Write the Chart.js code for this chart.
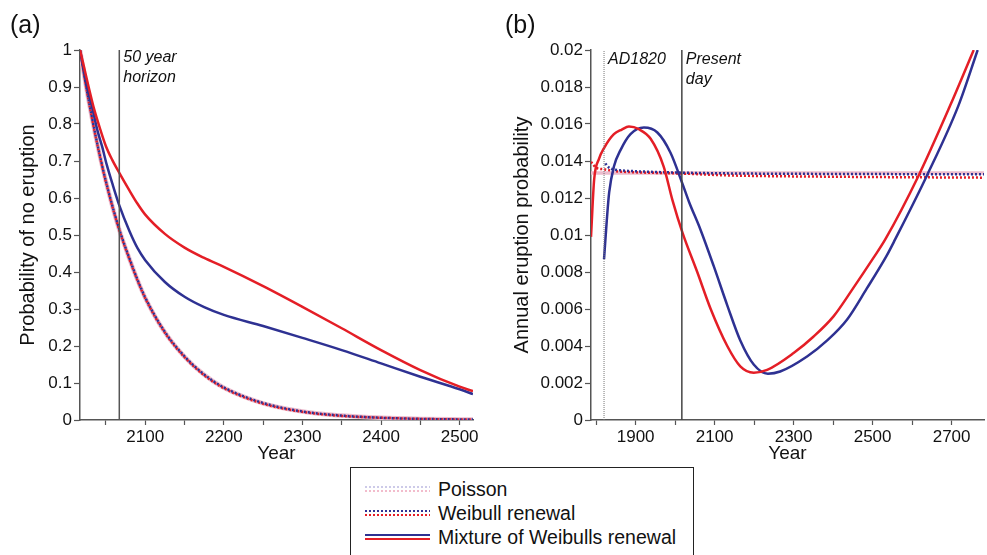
<!DOCTYPE html>
<html>
<head>
<meta charset="utf-8">
<script src="https://cdn.jsdelivr.net/npm/chart.js@4.4.1/dist/chart.umd.min.js"></script>
<style>
	body { margin: 0; background: #fff; font-family: "Liberation Sans", Arial, sans-serif; }
	#wrap { position: relative; width: 987px; height: 555px; overflow: hidden; }
	canvas { position: absolute; top: 0; }
	#chartA { left: 0; }
	#chartB { left: 500px; }
	.panel { position: absolute; top: 12px; font-size: 25px; line-height: 1; color: #111; }
	#legend { position: absolute; left: 350px; top: 467px; width: 342px; height: 100px; border: 1px solid #222; background: #fff; }
	.row { position: absolute; left: 0; width: 340px; height: 24px; }
	.row span { position: absolute; left: 87px; top: 0; line-height: 24px; font-size: 19.5px; color: #111; white-space: nowrap; }
	.bar { position: absolute; left: 14px; width: 65px; height: 2px; }
</style>
</head>
<body>
<div id="wrap">
	<canvas id="chartA" width="490" height="470"></canvas>
	<canvas id="chartB" width="487" height="470"></canvas>
	<div class="panel" style="left:10px">(a)</div>
	<div class="panel" style="left:505px">(b)</div>
	<div id="legend">
		<div class="row" style="top:9px">
			<div class="bar" style="top:9px;background:repeating-linear-gradient(90deg,#cdcae8 0 2px,transparent 2px 4px)"></div>
			<div class="bar" style="top:13px;background:repeating-linear-gradient(90deg,#f2bccc 0 2px,transparent 2px 4px)"></div>
			<span>Poisson</span>
		</div>
		<div class="row" style="top:33px">
			<div class="bar" style="top:9px;background:repeating-linear-gradient(90deg,#2e3192 0 2px,transparent 2px 4px)"></div>
			<div class="bar" style="top:13px;background:repeating-linear-gradient(90deg,#e41e26 0 2px,transparent 2px 4px)"></div>
			<span>Weibull renewal</span>
		</div>
		<div class="row" style="top:57px">
			<div class="bar" style="top:9px;background:#2e3192"></div>
			<div class="bar" style="top:13px;background:#e41e26"></div>
			<span>Mixture of Weibulls renewal</span>
		</div>
	</div>
</div>
<script>
// (a) probability of no eruption, by year
var poissonYearsA = [2017, 2027, 2037, 2047, 2057, 2067, 2080, 2090, 2100, 2125, 2150, 2175, 2200, 2250, 2300, 2350, 2400, 2450, 2500, 2517];
var poissonA      = [1, 0.875, 0.766, 0.67, 0.587, 0.514, 0.435, 0.379, 0.33, 0.237, 0.171, 0.122, 0.087, 0.045, 0.023, 0.012, 0.006, 0.003, 0.0016, 0.0013];
var weibullRedA   = [1, 0.874, 0.765, 0.669, 0.586, 0.513, 0.434, 0.378, 0.329, 0.236, 0.17, 0.121, 0.086, 0.044, 0.022, 0.011, 0.006, 0.003, 0.0015, 0.0012];
var weibullBlueA  = [1, 0.876, 0.767, 0.671, 0.588, 0.515, 0.436, 0.38, 0.331, 0.238, 0.172, 0.123, 0.088, 0.046, 0.023, 0.012, 0.006, 0.003, 0.0016, 0.0013];

var mixRedYearsA  = [2017, 2022, 2028, 2035, 2043, 2050, 2058, 2067, 2080, 2090, 2100, 2125, 2150, 2175, 2200, 2250, 2300, 2350, 2400, 2450, 2500, 2517];
var mixRedA       = [1, 0.955, 0.9, 0.84, 0.784, 0.74, 0.703, 0.668, 0.62, 0.585, 0.555, 0.503, 0.466, 0.438, 0.414, 0.362, 0.306, 0.248, 0.189, 0.135, 0.09, 0.078];
var mixBlueYearsA = [2017, 2026, 2033, 2039, 2045, 2051, 2058, 2067, 2080, 2090, 2100, 2125, 2150, 2175, 2200, 2250, 2300, 2350, 2400, 2450, 2500, 2517];
var mixBlueA      = [1, 0.9, 0.84, 0.784, 0.74, 0.69, 0.64, 0.58, 0.51, 0.465, 0.432, 0.373, 0.333, 0.305, 0.284, 0.254, 0.222, 0.189, 0.153, 0.117, 0.083, 0.07];

var horizonYear = 2067;
var xTicksA = [2050, 2100, 2150, 2200, 2250, 2300, 2350, 2400, 2450, 2500];
var xLabelsA = [2100, 2200, 2300, 2400, 2500];

// (b) annual eruption probability, by year
var poissonYearsB = [1787, 2782];
var poissonB      = [0.01335, 0.01335];
var weibullRedYearsB  = [1787, 1800, 1820, 1850, 1887, 2018, 2137, 2400, 2782];
var weibullRedB       = [0.01395, 0.01364, 0.01355, 0.01345, 0.0134, 0.01332, 0.01322, 0.01315, 0.0131];
var weibullBlueYearsB = [1820, 1833, 1860, 1887, 2018, 2137, 2400, 2782];
var weibullBlueB      = [0.01395, 0.01364, 0.0135, 0.01346, 0.01337, 0.01333, 0.0133, 0.01328];

var mixRedYearsB  = [1787, 1795, 1807, 1820, 1845, 1865, 1883, 1908, 1938, 1971, 1993, 2019, 2056, 2090, 2132, 2165, 2199, 2233, 2300, 2350, 2401, 2450, 2502, 2532, 2616, 2696, 2756];
var mixRedB       = [0.0099, 0.013, 0.0141, 0.0147, 0.01545, 0.0157, 0.01586, 0.01572, 0.0152, 0.0137, 0.0119, 0.0101, 0.008, 0.006, 0.004, 0.0029, 0.00256, 0.00271, 0.00362, 0.0045, 0.0056, 0.0071, 0.00876, 0.00976, 0.01319, 0.01698, 0.02];
var mixBlueYearsB = [1820, 1827, 1833, 1845, 1862, 1887, 1921, 1955, 1988, 2018, 2035, 2064, 2098, 2132, 2165, 2199, 2235, 2266, 2334, 2385, 2435, 2485, 2536, 2557, 2637, 2717, 2766];
var mixBlueB      = [0.0087, 0.0108, 0.0123, 0.0137, 0.0146, 0.01545, 0.01581, 0.01554, 0.01446, 0.0128, 0.0118, 0.0103, 0.0083, 0.0062, 0.0043, 0.003, 0.0025, 0.00262, 0.00343, 0.0043, 0.00542, 0.0071, 0.0089, 0.00976, 0.01319, 0.01698, 0.02];

var ad1820Year = 1820;
var presentYear = 2017;
var xTicksB = [1800, 1900, 2000, 2100, 2200, 2300, 2400, 2500, 2600, 2700];
var xLabelsB = [1900, 2100, 2300, 2500, 2700];

var RED = '#e41e26';
var BLUE = '#2e3192';
var FONT = '"Liberation Sans", Arial, sans-serif';

function toPoints(xs, ys) {
	var pts = [];
	for (var i in xs) {
		pts.push({x: xs[i], y: ys[i]});
	}
	return pts;
}

function curve(xs, ys, color, width, dash, offset, order) {
	return {
		data: toPoints(xs, ys),
		borderColor: color,
		borderWidth: width,
		borderDash: dash || [],
		borderDashOffset: offset || 0,
		pointRadius: 0,
		fill: false,
		cubicInterpolationMode: 'monotone',
		order: order
	};
}

function vline(year, lo, hi, color, width, dash) {
	return {
		data: [{x: year, y: lo}, {x: year, y: hi}],
		borderColor: color,
		borderWidth: width,
		borderDash: dash || [],
		pointRadius: 0,
		order: 0
	};
}

var notesPlugin = {
	id: 'notes',
	afterDatasetsDraw: function(chart, args, opts) {
		var ctx = chart.ctx;
		var xs = chart.scales.x;
		var top = chart.chartArea.top;
		ctx.save();
		ctx.font = 'italic 16px ' + FONT;
		ctx.fillStyle = '#111';
		ctx.textBaseline = 'alphabetic';
		opts.items.forEach(function(n) {
			var x = xs.getPixelForValue(n.year) + n.dx;
			n.lines.forEach(function(t, i) {
				ctx.fillText(t, x, top + n.dy + i * 20);
			});
		});
		ctx.restore();
	}
};

function axisOptions(min, max, step, labelFn, title, size, padTop, padBottom, tickLen) {
	return {
		type: 'linear',
		min: min,
		max: max,
		title: {display: true, text: title, color: '#111', font: {family: FONT, size: size}, padding: {top: padTop, bottom: padBottom}},
		ticks: {stepSize: step, autoSkip: false, maxRotation: 0, padding: 2, color: '#111', font: {family: FONT, size: 17}, callback: labelFn},
		grid: {drawOnChartArea: false, drawTicks: true, tickLength: tickLen, color: '#555', tickWidth: 1.2},
		border: {display: true, color: '#555', width: 1.5}
	};
}

function fixedTicks(axis, values) {
	axis.afterBuildTicks = function(s) {
		s.ticks = values.map(function(v) { return {value: v}; });
	};
	return axis;
}

function baseOptions(xAxis, yAxis, yWidth, padRight, notes) {
	xAxis.afterFit = function(s) { s.height = 50; };
	yAxis.afterFit = function(s) { s.width = yWidth; };
	return {
		responsive: false,
		animation: false,
		layout: {padding: {top: 50, right: padRight, bottom: 0, left: 0}},
		plugins: {legend: {display: false}, tooltip: {enabled: false}, notes: {items: notes}},
		scales: {x: xAxis, y: yAxis}
	};
}

var optsA = baseOptions(
	fixedTicks(axisOptions(2017, 2517, 50, function(v) { return xLabelsA.indexOf(v) >= 0 ? String(v) : ''; }, 'Year', 19, 0, 5, 5), xTicksA),
	axisOptions(0, 1, 0.1, function(v) { return String(+v.toFixed(1)); }, 'Probability of no eruption', 20, 16, 0, 6),
	80, 17,
	[{year: horizonYear, dx: 4, dy: 12, lines: ['50 year', 'horizon']}]
);

new Chart(document.getElementById('chartA'), {
	type: 'line',
	data: {
		datasets: [
			vline(horizonYear, 0, 1, '#555', 1.5),
			curve(mixRedYearsA, mixRedA, RED, 2.5, null, 0, 1),
			curve(mixBlueYearsA, mixBlueA, BLUE, 2.5, null, 0, 2),
			curve(poissonYearsA, weibullBlueA, BLUE, 2.5, [2, 2], 2, 3),
			curve(poissonYearsA, weibullRedA, RED, 2.5, [2, 2], 0, 4),
			curve(poissonYearsA, poissonA, '#ecbccd', 4.5, null, 0, 5)
		]
	},
	options: optsA,
	plugins: [notesPlugin]
});

var optsB = baseOptions(
	fixedTicks(axisOptions(1787, 2782, 100, function(v) { return xLabelsB.indexOf(v) >= 0 ? String(v) : ''; }, 'Year', 19, 0, 5, 5), xTicksB),
	axisOptions(0, 0.02, 0.002, function(v) { return String(+v.toFixed(3)); }, 'Annual eruption probability', 20, 10, 0, 6),
	91, 3,
	[
		{year: ad1820Year, dx: 4, dy: 14, lines: ['AD1820']},
		{year: presentYear, dx: 4, dy: 14, lines: ['Present', 'day']}
	]
);

new Chart(document.getElementById('chartB'), {
	type: 'line',
	data: {
		datasets: [
			vline(ad1820Year, 0, 0.02, '#777', 1, [1, 1]),
			vline(presentYear, 0, 0.02, '#444', 1.5),
			curve(mixRedYearsB, mixRedB, RED, 2.5, null, 0, 3),
			curve(mixBlueYearsB, mixBlueB, BLUE, 2.5, null, 0, 4),
			curve(weibullBlueYearsB, weibullBlueB, BLUE, 2.5, [2, 2], 2, 5),
			curve(weibullRedYearsB, weibullRedB, RED, 2.5, [2, 2], 0, 6),
			curve(poissonYearsB, poissonB, '#ecbccd', 3.5, null, 0, 7)
		]
	},
	options: optsB,
	plugins: [notesPlugin]
});
</script>
</body>
</html>
